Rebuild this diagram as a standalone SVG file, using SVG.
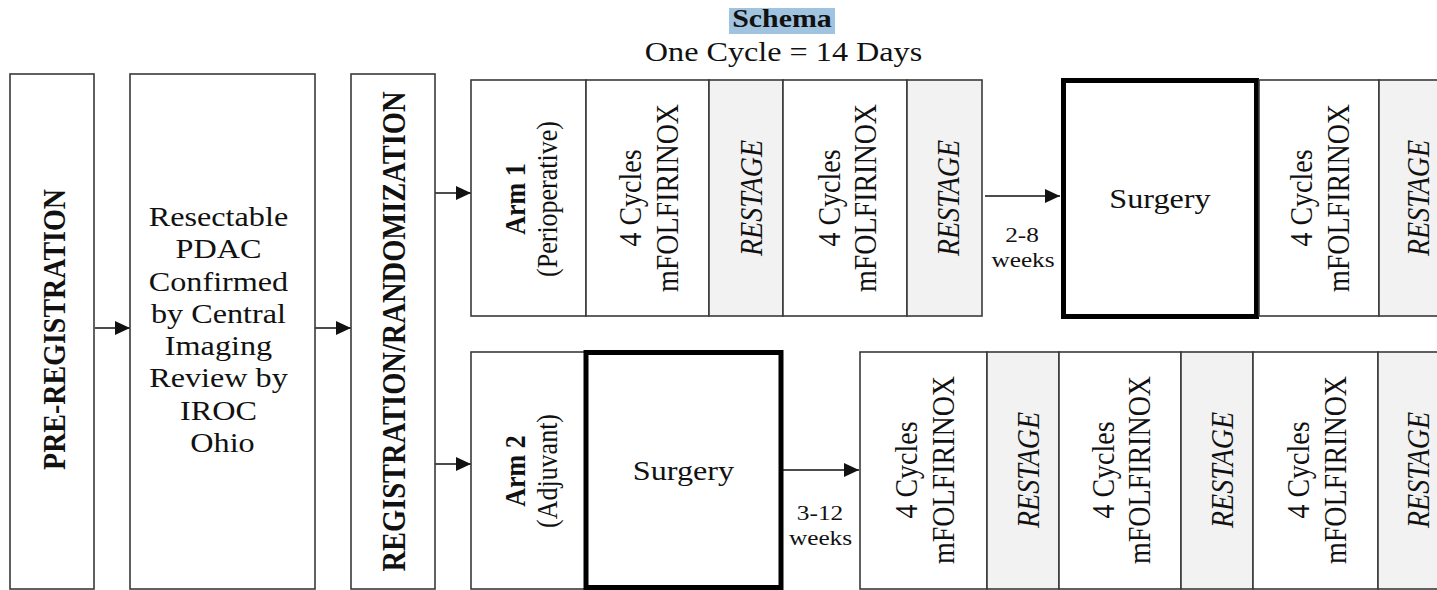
<svg xmlns="http://www.w3.org/2000/svg" width="1437" height="590" viewBox="0 0 1437 590">
<defs>
<style>
.box{fill:#fff;stroke:#3a3a3a;stroke-width:1.6}
.gray{fill:#f2f2f2;stroke:#3a3a3a;stroke-width:1.6}
.thick{fill:#fff;stroke:#000;stroke-width:5}
.t{font-family:"Liberation Serif","Times New Roman",serif;fill:#111;text-anchor:middle}
.b{font-weight:bold}
.i{font-style:italic}
.f28{font-size:28px}
.f26{font-size:26px}
.f22{font-size:22px}
.conn{stroke:#111;stroke-width:1.6;fill:none;marker-end:url(#ah)}
</style>
<marker id="ah" markerUnits="userSpaceOnUse" markerWidth="16" markerHeight="14" refX="15" refY="7" orient="auto">
<path d="M0,0 L15,7 L0,14 z" fill="#111"/>
</marker>
</defs>
<rect width="1437" height="590" fill="#fff"/>

<g id="title">
<rect x="729" y="8" width="106" height="26" fill="#a0c4e0"/>
<text class="t b" font-size="26" transform="matrix(1.15,0,0,1,782,27)">Schema</text>
<text class="t f28" transform="matrix(1.15,0,0,1,783.5,61)">One Cycle = 14 Days</text>
</g>

<g id="connectors">
<line class="conn" x1="95" y1="328" x2="130" y2="328"/>
<line class="conn" x1="315" y1="328" x2="351" y2="328"/>
<line class="conn" x1="435" y1="193" x2="471" y2="193"/>
<line class="conn" x1="435" y1="464" x2="471" y2="464"/>
<line class="conn" x1="985" y1="196" x2="1060" y2="196"/>
<line class="conn" x1="783" y1="470" x2="859" y2="470"/>
<text class="t f22" transform="matrix(1.15,0,0,1,1022,242)">2-8</text>
<text class="t f22" transform="matrix(1.15,0,0,1,1023,267)">weeks</text>
<text class="t f22" transform="matrix(1.15,0,0,1,820,520)">3-12</text>
<text class="t f22" transform="matrix(1.15,0,0,1,820.5,545)">weeks</text>
</g>

<g id="pre-registration">
<rect class="box" x="10" y="74" width="84" height="515"/>
<text class="t b f28" transform="matrix(0,-1,1.15,0,65,329.5)">PRE-REGISTRATION</text>
</g>

<g id="resectable">
<rect class="box" x="130" y="74" width="185" height="515"/>
<text class="t f28" transform="matrix(1.15,0,0,1,222.5,226)">
<tspan x="0" y="0">Resectable</tspan>
<tspan x="0" y="32.3">PDAC</tspan>
<tspan x="0" y="64.6">Confirmed</tspan>
<tspan x="0" y="96.9">by Central</tspan>
<tspan x="0" y="129.2">Imaging</tspan>
<tspan x="0" y="161.5">Review by</tspan>
<tspan x="0" y="193.8">IROC</tspan>
<tspan x="0" y="226.1">Ohio</tspan>
</text>
</g>

<g id="registration">
<rect class="box" x="351" y="74" width="84" height="515"/>
<text class="t b" font-size="28.5" transform="matrix(0,-1,1.15,0,405,331.5)">REGISTRATION/RANDOMIZATION</text>
</g>

<g id="arm1">
<g id="arm1-label">
<rect class="box" x="471" y="80" width="115" height="236"/>
<text class="t f26" transform="matrix(0,-1,1.15,0,528.5,199)"><tspan class="b" x="0" y="-3">Arm 1</tspan><tspan x="0" y="24.8">(Perioperative)</tspan></text>
</g>
<g id="arm1-chemo1">
<rect class="box" x="586" y="80" width="123" height="236"/>
<text class="t f28" transform="matrix(0,-1,1.15,0,647.5,198)"><tspan x="0" y="-5.6">4 Cycles</tspan><tspan x="0" y="26.5">mFOLFIRINOX</tspan></text>
</g>
<g id="arm1-restage1">
<rect class="gray" x="709" y="80" width="74" height="236"/>
<text class="t i f28" transform="matrix(0,-1,1.15,0,746,198)" y="13.9">RESTAGE</text>
</g>
<g id="arm1-chemo2">
<rect class="box" x="783" y="80" width="124" height="236"/>
<text class="t f28" transform="matrix(0,-1,1.15,0,846,198)"><tspan x="0" y="-5.6">4 Cycles</tspan><tspan x="0" y="26.5">mFOLFIRINOX</tspan></text>
</g>
<g id="arm1-restage2">
<rect class="gray" x="907" y="80" width="75" height="236"/>
<text class="t i f28" transform="matrix(0,-1,1.15,0,943.5,198)" y="13.9">RESTAGE</text>
</g>
<g id="arm1-surgery">
<rect class="thick" x="1063.5" y="80.5" width="193" height="236"/>
<text class="t f28" transform="matrix(1.15,0,0,1,1160,208)" font-size="27.5">Surgery</text>
</g>
<g id="arm1-chemo3">
<rect class="box" x="1259" y="80" width="120" height="236"/>
<text class="t f28" transform="matrix(0,-1,1.15,0,1318.5,198)"><tspan x="0" y="-5.6">4 Cycles</tspan><tspan x="0" y="26.5">mFOLFIRINOX</tspan></text>
</g>
<g id="arm1-restage3">
<rect class="gray" x="1379" y="80" width="80" height="236"/>
<text class="t i f28" transform="matrix(0,-1,1.15,0,1416.5,198)" y="10.8">RESTAGE</text>
</g>
</g>

<g id="arm2">
<g id="arm2-label">
<rect class="box" x="471" y="352" width="114" height="237"/>
<text class="t f26" transform="matrix(0,-1,1.15,0,528,471)"><tspan class="b" x="0" y="-3">Arm 2</tspan><tspan x="0" y="25.5">(Adjuvant)</tspan></text>
</g>
<g id="arm2-surgery">
<rect class="thick" x="586" y="352.5" width="195" height="235"/>
<text class="t f28" transform="matrix(1.15,0,0,1,683.5,480)" font-size="27.5">Surgery</text>
</g>
<g id="arm2-chemo1">
<rect class="box" x="860" y="352" width="127" height="237"/>
<text class="t f28" transform="matrix(0,-1,1.15,0,923.5,470)"><tspan x="0" y="-5.6">4 Cycles</tspan><tspan x="0" y="26.5">mFOLFIRINOX</tspan></text>
</g>
<g id="arm2-restage1">
<rect class="gray" x="987" y="352" width="72" height="237"/>
<text class="t i f28" transform="matrix(0,-1,1.15,0,1023,470)" y="13.9">RESTAGE</text>
</g>
<g id="arm2-chemo2">
<rect class="box" x="1059" y="352" width="122" height="237"/>
<text class="t f28" transform="matrix(0,-1,1.15,0,1120,470)"><tspan x="0" y="-5.6">4 Cycles</tspan><tspan x="0" y="26.5">mFOLFIRINOX</tspan></text>
</g>
<g id="arm2-restage2">
<rect class="gray" x="1181" y="352" width="72" height="237"/>
<text class="t i f28" transform="matrix(0,-1,1.15,0,1217,470)" y="13.9">RESTAGE</text>
</g>
<g id="arm2-chemo3">
<rect class="box" x="1253" y="352" width="125" height="237"/>
<text class="t f28" transform="matrix(0,-1,1.15,0,1315.5,470)"><tspan x="0" y="-5.6">4 Cycles</tspan><tspan x="0" y="26.5">mFOLFIRINOX</tspan></text>
</g>
<g id="arm2-restage3">
<rect class="gray" x="1378" y="352" width="82" height="237"/>
<text class="t i f28" transform="matrix(0,-1,1.15,0,1416.5,470)" y="10.8">RESTAGE</text>
</g>
</g>
</svg>
